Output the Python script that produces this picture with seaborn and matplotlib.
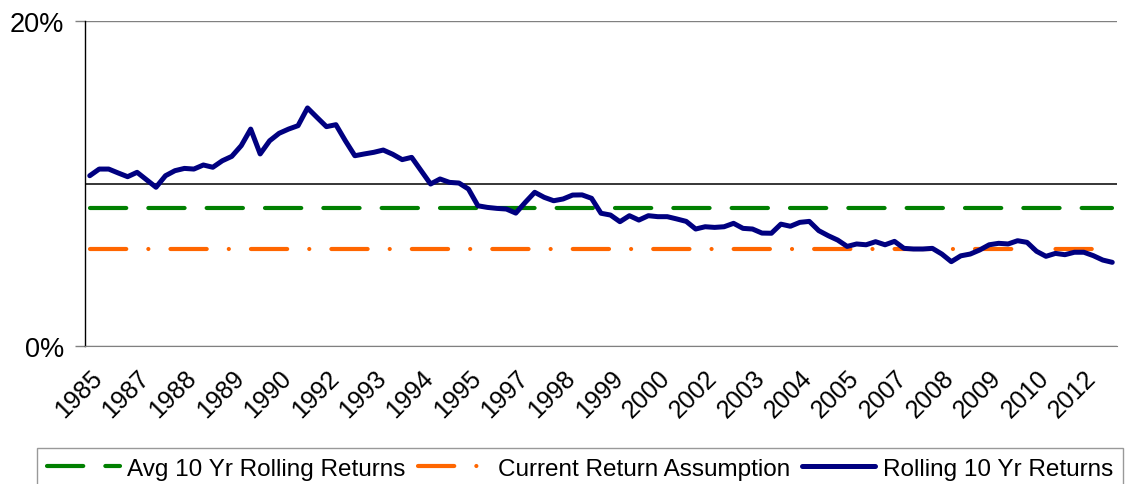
import numpy as np
import pandas as pd
import matplotlib.pyplot as plt
import matplotlib.transforms as mtransforms
import seaborn as sns

# Rolling 10 yr returns (%), quarterly, Q4 1985 .. Q4 2012
rolling = [10.48, 10.89, 10.89, 10.65, 10.42, 10.69, 10.23, 9.77, 10.48, 10.79,
           10.93, 10.89, 11.14, 11.00, 11.40, 11.67, 12.33, 13.35, 11.82, 12.63,
           13.09, 13.35, 13.56, 14.65, 14.07, 13.50, 13.62, 12.63, 11.71, 11.82,
           11.92, 12.06, 11.80, 11.47, 11.61, 10.79, 9.97, 10.28, 10.07, 10.03,
           9.66, 8.63, 8.53, 8.47, 8.43, 8.18, 8.84, 9.46, 9.15, 8.94,
           9.05, 9.29, 9.30, 9.09, 8.17, 8.06, 7.65, 8.02, 7.75, 8.02,
           7.96, 7.96, 7.82, 7.67, 7.20, 7.34, 7.30, 7.34, 7.55, 7.24,
           7.20, 6.95, 6.94, 7.50, 7.37, 7.61, 7.67, 7.10, 6.79, 6.52,
           6.13, 6.28, 6.23, 6.42, 6.23, 6.44, 6.01, 5.97, 5.97, 6.01,
           5.66, 5.19, 5.55, 5.66, 5.91, 6.23, 6.32, 6.28, 6.48, 6.38,
           5.83, 5.52, 5.70, 5.62, 5.77, 5.77, 5.56, 5.29, 5.15]
avg_return = 8.5        # avg 10 yr rolling returns
assumption = 6.0        # current return assumption
tick_years = ['1985', '1987', '1988', '1989', '1990', '1992', '1993', '1994',
              '1995', '1997', '1998', '1999', '2000', '2002', '2003', '2004',
              '2005', '2007', '2008', '2009', '2010', '2012']

n = len(rolling)
df = pd.DataFrame({'q': np.arange(n),
                   'Rolling': rolling,
                   'Avg': [avg_return] * n,
                   'Assumption': [assumption] * n})

sns.set_style('white')
plt.rcParams['font.family'] = ['Liberation Sans', 'DejaVu Sans']

fig, ax = plt.subplots(figsize=(11.26, 4.85), dpi=100)
fig.subplots_adjust(left=0.0755, right=0.992, top=0.9546, bottom=0.2845)

ax.axhline(10, color='black', lw=1.1, zorder=1)

sns.lineplot(data=df, x='q', y='Avg', ax=ax, color='#008000', lw=3.0,
             linestyle=(0, (8.7, 5.3)), dash_capstyle='round',
             label='Avg 10 Yr Rolling Returns', zorder=2)
sns.lineplot(data=df, x='q', y='Assumption', ax=ax, color='#FF6600', lw=3.0,
             linestyle=(0, (8.7, 5.3, 0.01, 5.3)), dash_capstyle='round',
             label='Current Return Assumption', zorder=2)
sns.lineplot(data=df, x='q', y='Rolling', ax=ax, color='#000080', lw=3.6,
             solid_capstyle='round', label='Rolling 10 Yr Returns', zorder=3)

ax.set_xlim(-0.5, n - 0.5)
ax.set_ylim(0, 20)
ax.set_yticks([0, 20])
ax.set_yticklabels(['0%', '20%'], fontsize=19.5, color='black')
ax.set_xticks(np.arange(0, n, 5)[:len(tick_years)])
ax.set_xticklabels(tick_years, fontsize=18, rotation=45, ha='right',
                   va='top', rotation_mode='anchor', color='black')
shift = mtransforms.ScaledTranslation(-4 / 100, 0, fig.dpi_scale_trans)
for lab in ax.get_xticklabels():
    lab.set_transform(lab.get_transform() + shift)
ax.set_xlabel('')
ax.set_ylabel('')

ax.yaxis.grid(True, color='#808080', lw=1)
ax.tick_params(axis='y', length=7, width=1, color='#808080', pad=8, left=True)
ax.tick_params(axis='x', length=0, pad=14)
for s in ['top', 'right']:
    ax.spines[s].set_visible(False)
ax.spines['bottom'].set_color('#808080')
ax.spines['left'].set_color('black')
ax.spines['left'].set_linewidth(1)

leg = ax.legend(loc='upper center', bbox_to_anchor=(0.515, 0.074),
                bbox_transform=fig.transFigure, ncol=3, fontsize=17.5,
                frameon=True, fancybox=False, handlelength=3.0,
                handletextpad=0.3, columnspacing=0.5, borderpad=0.4,
                borderaxespad=0)
leg.get_frame().set_edgecolor('#808080')
leg.get_frame().set_linewidth(1)
for t in leg.get_texts():
    t.set_color('black')

plt.savefig('out.png', dpi=100)
